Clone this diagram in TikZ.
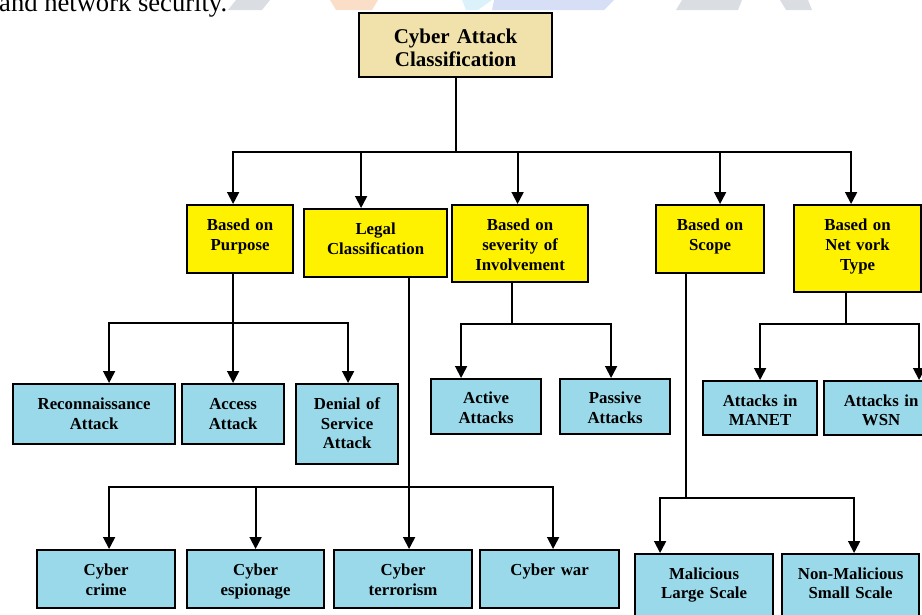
\documentclass[tikz,border=0pt]{standalone}
\usepackage{fontspec}
\setmainfont{Liberation Serif}
\usetikzlibrary{arrows.meta}
\definecolor{ybox}{RGB}{255,242,0}
\definecolor{bbox}{RGB}{153,217,234}
\definecolor{rbox}{RGB}{240,226,170}
\definecolor{wmgray}{RGB}{218,222,227}
\definecolor{wmblue}{RGB}{214,223,246}
\definecolor{wmorange}{RGB}{251,222,200}
\definecolor{wmcyan}{RGB}{220,242,250}
\begin{document}
\begin{tikzpicture}[x=1pt,y=-1pt,
  every node/.style={inner sep=0pt, anchor=north west, align=center},
  sz/.style n args={3}{text width=#1, text height=#2, text depth=#3},
  basebox/.style={draw=black, line width=2.2pt},
  rootbox/.style={basebox, fill=rbox, font=\fontsize{21}{23}\selectfont\bfseries},
  ybx/.style={basebox, fill=ybox, font=\fontsize{16.8}{20}\selectfont\bfseries},
  bbx/.style={basebox, fill=bbox, font=\fontsize{16.8}{19.6}\selectfont\bfseries},
  lbx/.style={basebox, fill=bbox, font=\fontsize{16.8}{19.6}\selectfont\bfseries},
  ln/.style={line width=1.8pt},
  arr/.style={line width=1.8pt, -{Triangle[width=12pt,length=12pt]}}
]
\useasboundingbox (0,0) rectangle (922,614);
% faint watermark at the top edge
\fill[wmgray] (236,0) -- (270,0) -- (262,10) -- (228,10) -- cycle;
\fill[wmorange] (330,0) -- (378,0) -- (372,10) -- (336,10) -- cycle;
\fill[wmcyan] (462,0) -- (492,0) -- (478,10) -- (466,10) -- cycle;
\fill[wmblue] (494,0) -- (614,0) -- (604,10) -- (492,10) -- cycle;
\fill[wmgray] (682,0) -- (742,0) -- (738,10) -- (676,10) -- cycle;
\fill[wmgray] (780,0) -- (808,0) -- (812,10) -- (786,10) -- cycle;

\node[anchor=base west, font=\fontsize{26.6}{30}\selectfont] (toptext) at (-1,11.5) {and network security.};

% root
\node[rootbox, sz={193pt}{30pt}{34pt}] (root) at (358,12) {Cyber Attack\\Classification};

% second level
\node[ybx, sz={106pt}{25pt}{43pt}] (purpose) at (186,204) {Based on\\Purpose};
\node[ybx, sz={143pt}{25pt}{43pt}] (legal) at (303,208) {Legal\\Classification};
\node[ybx, sz={136pt}{25pt}{52pt}] (severity) at (451,204) {Based on\\severity of\\Involvement};
\node[ybx, sz={108pt}{25pt}{43pt}] (scope) at (655,204) {Based on\\Scope};
\node[ybx, sz={127pt}{25pt}{62pt}] (network) at (793,204) {Based on\\Net vork\\Type};

% third level
\node[bbx, sz={162pt}{25.5pt}{34.5pt}] (recon) at (12,383) {Reconnaissance\\Attack};
\node[bbx, sz={102pt}{25.5pt}{34.5pt}] (access) at (181,383) {Access\\Attack};
\node[bbx, sz={102pt}{25.5pt}{54.5pt}] (dos) at (295,383) {Denial of\\Service\\Attack};
\node[bbx, sz={110pt}{24.7pt}{30.3pt}] (active) at (430,378) {Active\\Attacks};
\node[bbx, sz={110pt}{24.7pt}{30.3pt}] (passive) at (559,378) {Passive\\Attacks};
\node[bbx, sz={114pt}{25pt}{29pt}] (manet) at (702,380) {Attacks in\\MANET};
\node[bbx, sz={114pt}{25pt}{29pt}] (wsn) at (823,380) {Attacks in\\WSN};

% bottom level
\node[lbx, sz={138pt}{25.5pt}{32.5pt}] (crime) at (36,549) {Cyber\\crime};
\node[lbx, sz={137pt}{25.5pt}{32.5pt}] (espionage) at (186,549) {Cyber\\espionage};
\node[lbx, sz={138pt}{25.5pt}{32.5pt}] (terror) at (333,549) {Cyber\\terrorism};
\node[lbx, sz={139pt}{25.5pt}{32.5pt}] (war) at (479,549) {Cyber war};
\node[lbx, sz={138pt}{25pt}{42pt}] (malicious) at (634,553) {Malicious\\Large Scale};
\node[lbx, sz={137pt}{25pt}{42pt}] (nonmal) at (781,553) {Non-Malicious\\Small Scale};

% root connectors
\path (root.south) ++(0,74) coordinate (bus);
\draw[ln] (root.south) -- (bus);
\draw[arr] (bus) -| ([xshift=-7pt]purpose.north);
\draw[arr] (bus) -| ([xshift=-14.5pt]legal.north);
\draw[arr] (bus) -| ([xshift=-2.5pt]severity.north);
\draw[arr] (bus) -| ([xshift=10pt]scope.north);
\draw[arr] (bus) -| ([xshift=-6.5pt]network.north);

% purpose
\path ([xshift=-7pt]purpose.south) ++(0,49) coordinate (pbus);
\draw[ln] ([xshift=-7pt]purpose.south) -- (pbus);
\draw[arr] (pbus) -| ([xshift=15pt]recon.north);
\draw[arr] (pbus) -- (access.north);
\draw[arr] (pbus) -| ([xshift=1pt]dos.north);

% legal
\path ([xshift=33.5pt]legal.south) ++(0,209) coordinate (lbus);
\draw[ln] ([xshift=33.5pt]legal.south) -- (lbus);
\draw[arr] (lbus) -| ([xshift=3pt]crime.north);
\draw[arr] (lbus) -| (espionage.north);
\draw[arr] (lbus) -- ([xshift=6pt]terror.north);
\draw[arr] (lbus) -| ([xshift=3.5pt]war.north);

% severity
\path ([xshift=-8pt]severity.south) ++(0,41) coordinate (sbus);
\draw[ln] ([xshift=-8pt]severity.south) -- (sbus);
\draw[arr] (sbus) -| ([xshift=-25pt]active.north);
\draw[arr] (sbus) -| ([xshift=-4pt]passive.north);

% scope
\path ([xshift=-24pt]scope.south) ++(0,224) coordinate (cbus);
\draw[ln] ([xshift=-24pt]scope.south) -- (cbus);
\draw[arr] (cbus) -| ([xshift=-44pt]malicious.north);
\draw[arr] (cbus) -| ([xshift=3.5pt]nonmal.north);

% network
\path ([xshift=-11.5pt]network.south) ++(0,31) coordinate (nbus);
\draw[ln] ([xshift=-11.5pt]network.south) -- (nbus);
\draw[arr] (nbus) -| (manet.north);
\draw[arr] (nbus) -| ([xshift=38pt]wsn.north);
\end{tikzpicture}
\end{document}
